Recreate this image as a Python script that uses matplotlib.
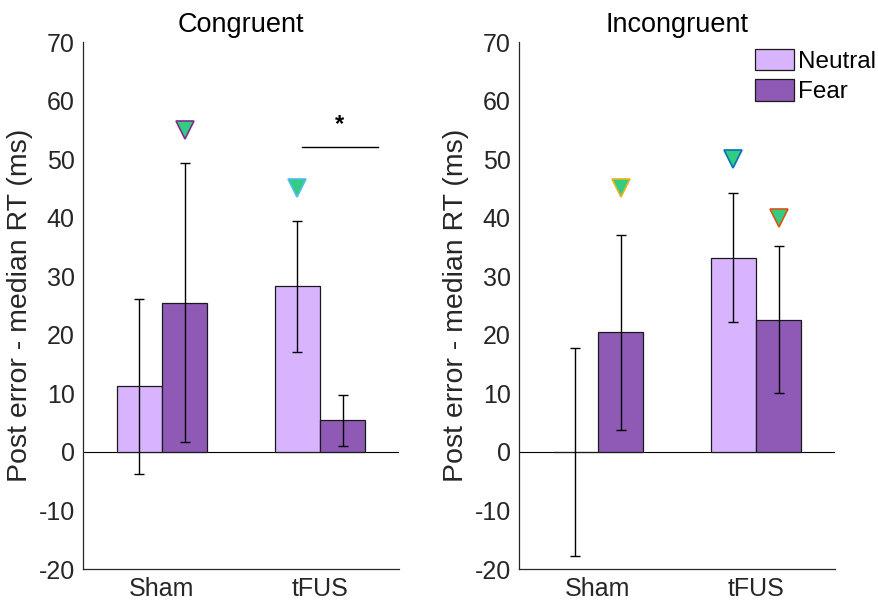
import matplotlib
matplotlib.use("Agg")
import matplotlib.pyplot as plt
import numpy as np

plt.rcParams['font.family'] = ['Liberation Sans', 'DejaVu Sans']
plt.rcParams['axes.unicode_minus'] = False

groups = ["Sham", "tFUS"]
conditions = ["Neutral", "Fear"]
panel_titles = ["Congruent", "Incongruent"]

# mean post-error RT difference (ms) and error, [group][condition]
congruent_mean = [[11.2, 25.5], [28.3, 5.4]]
congruent_err = [[14.9, 23.8], [11.2, 4.4]]
incongruent_mean = [[0.0, 20.4], [33.2, 22.6]]
incongruent_err = [[17.8, 16.6], [11.0, 12.6]]

# triangle markers: (group index, condition index, y value, edge colour)
congruent_markers = [(0, 1, 55, "#7E2F8E"), (1, 0, 45, "#4DBEEE")]
incongruent_markers = [(0, 1, 45, "#EDB120"), (1, 0, 50, "#0072BD"), (1, 1, 40, "#D95319")]

# significance bracket: (x start, x end, y, label)
congruent_sig = (1.886, 2.367, 52, "*")

bar_colors = ["#D8B4FE", "#8E5AB5"]
marker_fill = "#33CC80"
bar_w = 0.2857

fig = plt.figure(figsize=(8.79, 6.05), dpi=100)
ax_l = fig.add_axes([0.0944, 0.0595, 0.3595, 0.871])
ax_r = fig.add_axes([0.5904, 0.0595, 0.3595, 0.871])

panels = [
    (ax_l, congruent_mean, congruent_err, congruent_markers, congruent_sig),
    (ax_r, incongruent_mean, incongruent_err, incongruent_markers, None),
]

x = np.arange(1, len(groups) + 1)
offsets = [-bar_w / 2, bar_w / 2]

for i, (ax, means, errs, markers, sig) in enumerate(panels):
    means = np.array(means)
    errs = np.array(errs)
    ax.axhline(0, color="black", lw=0.8, zorder=1)
    for c in range(len(conditions)):
        ax.bar(x + offsets[c], means[:, c], width=bar_w, color=bar_colors[c],
               edgecolor="#1a1a1a", linewidth=0.9, label=conditions[c], zorder=2)
        ax.errorbar(x + offsets[c], means[:, c], yerr=errs[:, c], fmt="none",
                    ecolor="black", elinewidth=1.0, capsize=3.5, capthick=1.0, zorder=3)
    for g, c, yv, ec in markers:
        ax.plot(x[g] + offsets[c], yv, marker="v", markersize=12.5,
                markerfacecolor=marker_fill, markeredgecolor=ec,
                markeredgewidth=1.2, linestyle="none", zorder=4)
    if sig is not None:
        x0, x1, ys, lab = sig
        ax.plot([x0, x1], [ys, ys], color="black", lw=1.0)
        ax.text((x0 + x1) / 2, ys + 2.0, lab, ha="center", va="bottom",
                fontsize=17, fontweight="bold")

    ax.set_xlim(0.5, 2.5)
    ax.set_ylim(-20, 70)
    ax.set_yticks(np.arange(-20, 71, 10))
    ax.set_xticks(x)
    ax.set_xticklabels(groups)
    ax.tick_params(length=0, labelsize=18, colors="#262626", pad=6)
    for s in ["top", "right"]:
        ax.spines[s].set_visible(False)
    for s in ["left", "bottom"]:
        ax.spines[s].set_color("#262626")
        ax.spines[s].set_linewidth(0.9)
    ax.set_ylabel("Post error - median RT (ms)", fontsize=20.5, color="#262626", labelpad=4)
    ax.set_title(panel_titles[i], fontsize=19.5, pad=7)

leg = ax_r.legend(loc="upper right", bbox_to_anchor=(1.175, 1.015), frameon=False,
                  fontsize=17.5, handlelength=1.6, handleheight=1.0,
                  handletextpad=0.15, labelspacing=0.25, borderaxespad=0.2)

fig.savefig("out.png", dpi=100)
